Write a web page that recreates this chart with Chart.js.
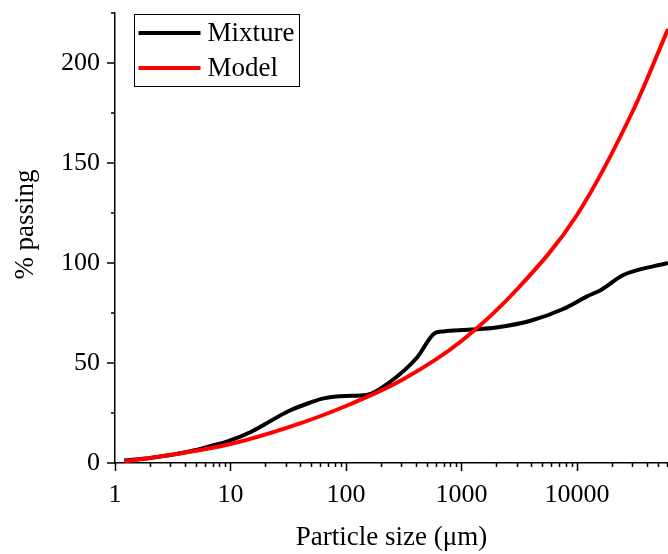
<!DOCTYPE html>
<html>
<head>
<meta charset="utf-8">
<script src="https://cdn.jsdelivr.net/npm/chart.js@4/dist/chart.umd.min.js"></script>
<style>
  html, body { margin: 0; padding: 0; background: #fff; overflow: hidden; }
  #wrap { position: relative; width: 668px; height: 554px; }
</style>
</head>
<body>
<div id="wrap"><canvas id="c" width="668" height="554"></canvas></div>
<script>
// ---- data ----
const seriesNames = ["Mixture", "Model"];
const seriesColors = ["#000000", "#ff0000"];

const mixtureSize    = [1.2, 2, 3, 5, 7, 9.3, 15, 20, 32, 48, 64, 100, 151, 240, 409, 590, 700, 1200, 2000, 3900, 7600, 12100, 16400, 25200, 61400];
const mixturePassing = [1.2, 2.5, 4, 6.5, 8.8, 10.7, 15.5, 19.5, 26, 30, 32.3, 33.5, 34, 40.5, 52.5, 65, 65.8, 66.7, 67.8, 71, 77, 83.2, 86.8, 94, 100];

const modelSize    = [1.2, 3.16, 10, 31.6, 100, 316, 1000, 3162, 10000, 31623, 61400];
const modelPassing = [0.8, 4.2, 9.5, 17.8, 28.5, 42, 61, 88, 124, 178, 217];

const xMin = 1, xMax = 61400;
const yMin = 0, yMax = 225, yStep = 25, yLabelStep = 50;
const xTitle = "Particle size (\u03BCm)";
const yTitle = "% passing";

// ---- chart ----
const FONT = "'Liberation Serif', 'Times New Roman', serif";

function pairs(xs, ys) { return xs.map((x, i) => ({ x: x, y: ys[i] })); }

const tickMarks = {
  id: 'tickMarks',
  afterDraw(chart) {
    const ctx = chart.ctx;
    const xs = chart.scales.x, ys = chart.scales.y;
    ctx.save();
    ctx.strokeStyle = '#000';
    ctx.lineWidth = 1.5;
    ctx.beginPath();
    ys.ticks.forEach(t => {
      const p = Math.round(ys.getPixelForValue(t.value));
      const major = Math.abs(t.value % yLabelStep) < 1e-9;
      const len = major ? 8 : 4;
      ctx.moveTo(ys.right, p);
      ctx.lineTo(ys.right - len, p);
    });
    xs.ticks.forEach(t => {
      const lg = Math.log10(t.value);
      const mant = t.value / Math.pow(10, Math.floor(lg + 1e-9));
      if (Math.abs(mant - Math.round(mant)) > 1e-6) return;
      const p = Math.round(xs.getPixelForValue(t.value)) + 0.5;
      const major = Math.abs(Math.round(mant) - 1) < 1e-6;
      const len = major ? 8 : 4;
      ctx.moveTo(p, xs.top);
      ctx.lineTo(p, xs.top + len);
    });
    ctx.stroke();
    ctx.restore();
  }
};

const boxLegend = {
  id: 'boxLegend',
  afterDraw(chart) {
    const ctx = chart.ctx;
    const a = chart.chartArea;
    const bx = a.left + 19.5, by = a.top + 1.5, bw = 165, bh = 72;
    ctx.save();
    ctx.fillStyle = '#fff';
    ctx.fillRect(bx, by, bw, bh);
    ctx.strokeStyle = '#000';
    ctx.lineWidth = 1;
    ctx.strokeRect(bx, by, bw, bh);
    chart.data.datasets.forEach((ds, i) => {
      const y = by + 18.5 + i * 35;
      ctx.strokeStyle = ds.borderColor;
      ctx.lineWidth = 4;
      ctx.beginPath();
      ctx.moveTo(bx + 4, y);
      ctx.lineTo(bx + 66, y);
      ctx.stroke();
      ctx.fillStyle = '#000';
      ctx.font = "27px " + FONT;
      ctx.textBaseline = 'middle';
      ctx.textAlign = 'left';
      ctx.fillText(ds.label, bx + 73, y + 1);
    });
    ctx.restore();
  }
};

new Chart(document.getElementById('c'), {
  type: 'line',
  data: {
    datasets: [
      { label: seriesNames[0], data: pairs(mixtureSize, mixturePassing), borderColor: seriesColors[0], backgroundColor: seriesColors[0],
        borderWidth: 4, pointRadius: 0, cubicInterpolationMode: 'monotone', fill: false, order: 1 },
      { label: seriesNames[1], data: pairs(modelSize, modelPassing), borderColor: seriesColors[1], backgroundColor: seriesColors[1],
        borderWidth: 4, pointRadius: 0, cubicInterpolationMode: 'monotone', fill: false, order: 0 }
    ]
  },
  options: {
    responsive: false,
    animation: false,
    devicePixelRatio: 1,
    layout: { padding: { top: 13, left: 0, right: 0, bottom: 0 } },
    plugins: { legend: { display: false }, tooltip: { enabled: false } },
    scales: {
      x: {
        type: 'logarithmic',
        min: xMin, max: xMax,
        grid: { display: false, drawTicks: false },
        border: { display: true, color: '#000', width: 1.5 },
        ticks: {
          autoSkip: false, maxRotation: 0, color: '#000', padding: 17,
          font: { family: FONT, size: 26 },
          callback: (v) => {
            const lg = Math.log10(v);
            return Math.abs(lg - Math.round(lg)) < 1e-9 ? String(Math.round(v)) : '';
          }
        },
        title: { display: true, text: xTitle, color: '#000', font: { family: FONT, size: 27 }, padding: { top: 0, bottom: 0 } },
        afterFit: (s) => { s.height = 91; s.paddingLeft = 0; s.paddingRight = 0; }
      },
      y: {
        min: yMin, max: yMax,
        grid: { display: false, drawTicks: false },
        border: { display: true, color: '#000', width: 1.5 },
        ticks: {
          stepSize: yStep, autoSkip: false, color: '#000', padding: 15,
          font: { family: FONT, size: 26 },
          callback: (v) => (Math.abs(v % yLabelStep) < 1e-9 ? String(v) : '')
        },
        title: { display: true, text: '\u00A0\u00A0\u00A0\u00A0' + yTitle, color: '#000', font: { family: FONT, size: 27 }, padding: { top: 10, bottom: 0 } },
        afterFit: (s) => { s.width = 115; s.paddingTop = 0; s.paddingBottom = 0; }
      }
    }
  },
  plugins: [tickMarks, boxLegend]
});
</script>
</body>
</html>
